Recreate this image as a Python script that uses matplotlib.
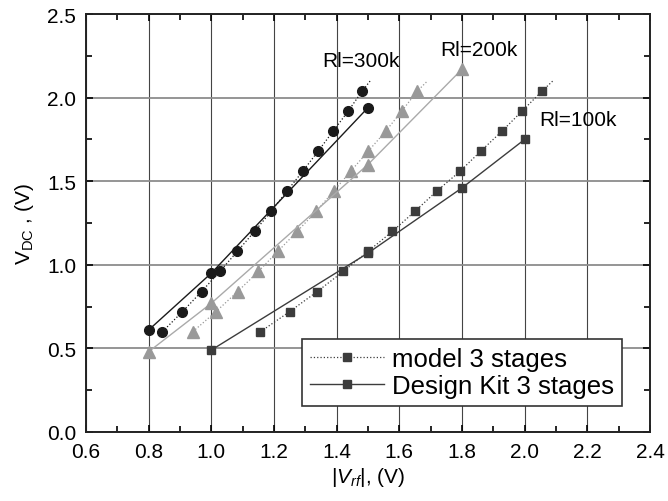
import numpy as np
import matplotlib
matplotlib.use("Agg")
import matplotlib.pyplot as plt
from matplotlib.ticker import MultipleLocator

plt.rcParams['font.family'] = ['Liberation Sans', 'DejaVu Sans']
plt.rcParams['mathtext.fontset'] = 'custom'
plt.rcParams['mathtext.rm'] = 'Liberation Sans'
plt.rcParams['mathtext.it'] = 'Liberation Sans:italic'

# model 3 stages (dotted, markers)
m300_x = [0.844, 0.908, 0.969, 1.027, 1.083, 1.138, 1.191, 1.241, 1.292, 1.341, 1.389, 1.437, 1.482]
m200_x = [0.941, 1.015, 1.084, 1.150, 1.212, 1.274, 1.335, 1.390, 1.445, 1.501, 1.557, 1.608, 1.658]
m100_x = [1.157, 1.250, 1.338, 1.421, 1.500, 1.578, 1.650, 1.719, 1.794, 1.860, 1.928, 1.992, 2.056]
m_y = [0.60, 0.72, 0.84, 0.96, 1.08, 1.20, 1.32, 1.44, 1.56, 1.68, 1.80, 1.92, 2.04]
# dotted model lines run a little past the last marker
m_end_x = {"300": 1.507, "200": 1.69, "100": 2.09}
m_end_y = 2.10

# Design Kit 3 stages (solid)
dk300_x = [0.8, 1.0, 1.5]
dk300_y = [0.61, 0.95, 1.94]
dk200_x = [0.8, 1.0, 1.5, 1.8]
dk200_y = [0.48, 0.77, 1.60, 2.17]
dk100_x = [1.0, 1.5, 1.8, 2.0]
dk100_y = [0.49, 1.07, 1.46, 1.75]

xticks = [0.6, 0.8, 1.0, 1.2, 1.4, 1.6, 1.8, 2.0, 2.2, 2.4]
yticks = [0.0, 0.5, 1.0, 1.5, 2.0, 2.5]

c300 = "#1a1a1a"
c200 = "#999999"
c200_line = "#aaaaaa"
c100 = "#3c3c3c"

fig = plt.figure(figsize=(6.68, 5.02), dpi=100)
ax = fig.add_axes([0.1287, 0.1375, 0.8443, 0.8325])

ax.set_xlim(0.6, 2.4)
ax.set_ylim(0.0, 2.5)
ax.set_xticks(xticks)
ax.set_xticklabels(["%.1f" % v for v in xticks])
ax.set_yticks(yticks)
ax.set_yticklabels(["%.1f" % v for v in yticks])
ax.xaxis.set_minor_locator(MultipleLocator(0.1))
ax.yaxis.set_minor_locator(MultipleLocator(0.25))
ax.grid(True, axis='x', color='#444444', lw=0.8, zorder=0)
ax.grid(True, axis='y', color='#8c8c8c', lw=1.3, zorder=0)
ax.set_axisbelow(True)

# model lines
ax.plot(m300_x + [m_end_x["300"]], m_y + [m_end_y], ls=':', color=c300, lw=0.9, zorder=2)
ax.plot(m200_x + [m_end_x["200"]], m_y + [m_end_y], ls=':', color=c200, lw=0.9, zorder=2)
ax.plot(m100_x + [m_end_x["100"]], m_y + [m_end_y], ls=':', color=c100, lw=0.9, zorder=2)
ax.plot(m300_x, m_y, ls='none', marker='o', ms=7, color=c300, zorder=3)
ax.plot(m200_x, m_y, ls='none', marker='^', ms=8, color=c200, zorder=3)
ax.plot(m100_x, m_y, ls='none', marker='s', ms=5.5, color=c100, zorder=3)

# design kit lines
ax.plot(dk300_x, dk300_y, ls='-', color=c300, lw=1.0, marker='o', ms=7, zorder=3)
ax.plot(dk200_x, dk200_y, ls='-', color=c200_line, lw=1.0, marker='^', ms=8,
        mfc=c200, mec=c200, zorder=3)
ax.plot(dk100_x, dk100_y, ls='-', color=c100, lw=1.0, marker='s', ms=5.5, zorder=3)

ax.text(1.477, 2.22, "Rl=300k", ha='center', va='center', fontsize=15)
ax.text(1.855, 2.29, "Rl=200k", ha='center', va='center', fontsize=15)
ax.text(2.17, 1.87, "Rl=100k", ha='center', va='center', fontsize=15)

# legend
h1, = ax.plot([], [], ls=':', color=c100, lw=0.9, marker='s', ms=6)
h2, = ax.plot([], [], ls='-', color=c100, lw=1.0, marker='s', ms=6)
leg = ax.legend([h1, h2], ["model 3 stages", "Design Kit 3 stages"],
                loc='lower left', bbox_to_anchor=(0.383, 0.062), borderaxespad=0,
                fontsize=18.5, frameon=True, fancybox=False, edgecolor='#333333',
                framealpha=1, handlelength=2.9, borderpad=0.3, labelspacing=0.15,
                handletextpad=0.3)
leg.get_frame().set_linewidth(1.2)

ax.tick_params(which='both', direction='in', top=True, right=True, width=1.2)
ax.tick_params(which='major', length=5, labelsize=15, pad=7)
ax.tick_params(which='minor', length=4)
for s in ax.spines.values():
    s.set_linewidth(1.4)
    s.set_color('#222222')

ax.set_xlabel(r"$|V_{rf}|$, (V)", fontsize=15, labelpad=3)
ax.set_ylabel(r"V$_\mathrm{DC}$ , (V)", fontsize=15, labelpad=8)

fig.savefig("out.png", dpi=100)
